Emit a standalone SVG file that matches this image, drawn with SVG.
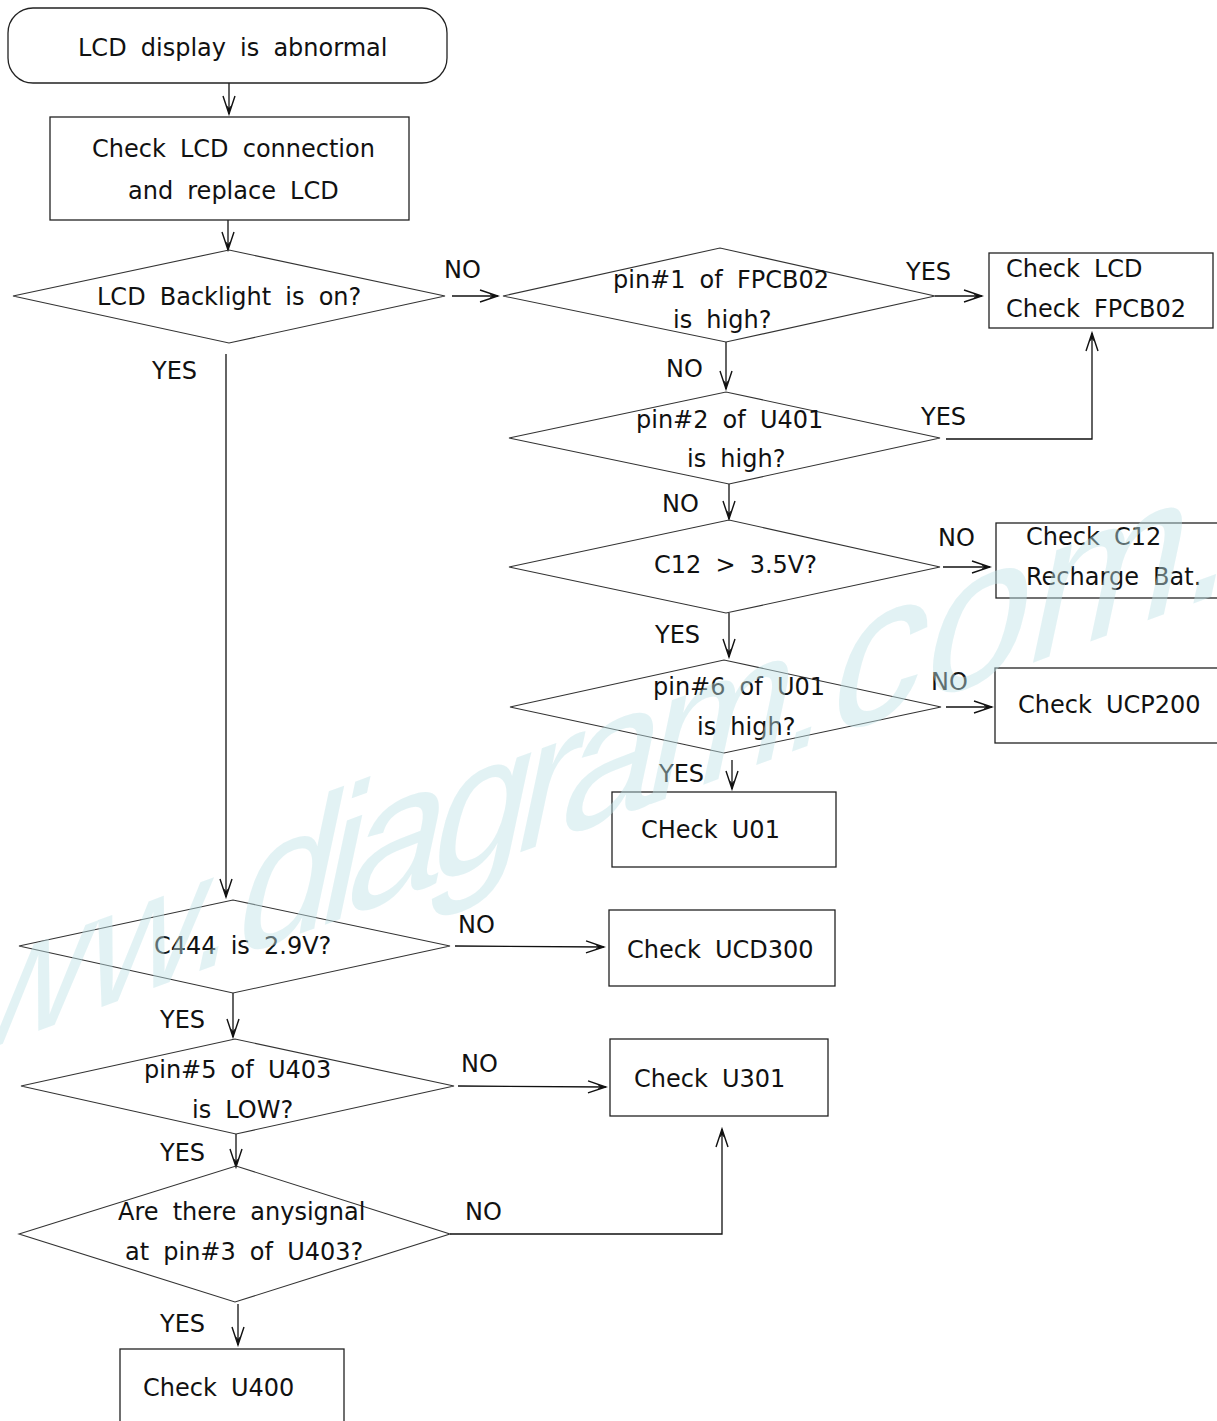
<svg xmlns="http://www.w3.org/2000/svg" width="1217" height="1421" viewBox="0 0 1217 1421">
<defs>
<style>
.t{font-family:"DejaVu Sans","Verdana",sans-serif;font-size:24px;word-spacing:6.5px;fill:#111}
.n{fill:#fff;stroke:#222;stroke-width:1.3}
.d{fill:none;stroke:#333;stroke-width:1.1}
.c{fill:none;stroke:#111;stroke-width:1.3}
.wm{font-family:"Liberation Sans",Arial,sans-serif;font-size:170px;fill:rgb(190,226,230);fill-opacity:0.45}
</style>
<marker id="ah" viewBox="-20 -8 22 16" refX="0" refY="0" markerWidth="22" markerHeight="16" markerUnits="userSpaceOnUse" orient="auto">
<path d="M-18,-6 L0,0 L-18,6" fill="none" stroke="#111" stroke-width="1.4"/>
<path d="M-9,-2.6 L0,0 L-9,2.6 L-6,0 Z" fill="#111"/>
</marker>
</defs>
<rect width="1217" height="1421" fill="#fff"/>
<g id="connectors">
<line class="c" x1="229" y1="83" x2="229" y2="114" marker-end="url(#ah)"/>
<line class="c" x1="228" y1="220" x2="228" y2="250" marker-end="url(#ah)"/>
<line class="c" x1="452" y1="296" x2="498" y2="296" marker-end="url(#ah)"/>
<line class="c" x1="226" y1="354" x2="226" y2="897" marker-end="url(#ah)"/>
<line class="c" x1="935" y1="296" x2="982" y2="296" marker-end="url(#ah)"/>
<line class="c" x1="726" y1="342" x2="726" y2="389" marker-end="url(#ah)"/>
<polyline class="c" points="946,439 1092,439 1092,333" marker-end="url(#ah)"/>
<line class="c" x1="729" y1="484" x2="729" y2="519" marker-end="url(#ah)"/>
<line class="c" x1="943" y1="567" x2="990" y2="567" marker-end="url(#ah)"/>
<line class="c" x1="729" y1="613" x2="729" y2="657" marker-end="url(#ah)"/>
<line class="c" x1="946" y1="707" x2="992" y2="707" marker-end="url(#ah)"/>
<line class="c" x1="732" y1="760" x2="732" y2="789" marker-end="url(#ah)"/>
<line class="c" x1="455" y1="946" x2="604" y2="947" marker-end="url(#ah)"/>
<line class="c" x1="233" y1="993" x2="233" y2="1037" marker-end="url(#ah)"/>
<line class="c" x1="458" y1="1086" x2="606" y2="1087" marker-end="url(#ah)"/>
<line class="c" x1="236" y1="1134" x2="236" y2="1167" marker-end="url(#ah)"/>
<polyline class="c" points="450,1234 722,1234 722,1129" marker-end="url(#ah)"/>
<line class="c" x1="238" y1="1304" x2="238" y2="1345" marker-end="url(#ah)"/>
<text class="t" x="444" y="278">NO</text>
<text class="t" x="152" y="379">YES</text>
<text class="t" x="906" y="280">YES</text>
<text class="t" x="666" y="377">NO</text>
<text class="t" x="921" y="425">YES</text>
<text class="t" x="662" y="512">NO</text>
<text class="t" x="938" y="546">NO</text>
<text class="t" x="655" y="643">YES</text>
<text class="t" x="931" y="690">NO</text>
<text class="t" x="659" y="782">YES</text>
<text class="t" x="458" y="933">NO</text>
<text class="t" x="160" y="1028">YES</text>
<text class="t" x="461" y="1072">NO</text>
<text class="t" x="160" y="1161">YES</text>
<text class="t" x="465" y="1220">NO</text>
<text class="t" x="160" y="1332">YES</text>
</g>
<g id="n_start">
<rect class="n" x="8" y="8" width="439" height="75" rx="25" ry="25"/>
<text class="t" x="78" y="56">LCD display is abnormal</text>
</g>
<g id="n_check_lcd_conn">
<rect class="n" x="50" y="117" width="359" height="103"/>
<text class="t" x="92" y="157">Check LCD connection</text>
<text class="t" x="128" y="199">and replace LCD</text>
</g>
<g id="d_backlight">
<polygon class="d" points="13,296 229,250 445,296 229,343"/>
<text class="t" x="97" y="305">LCD Backlight is on?</text>
</g>
<g id="d_fpcb02">
<polygon class="d" points="503,296 720,248 935,296 726,342"/>
<text class="t" x="613" y="288">pin#1 of FPCB02</text>
<text class="t" x="673" y="328">is high?</text>
</g>
<g id="n_check_lcd_fpcb02">
<rect class="n" x="989" y="253" width="224" height="75"/>
<text class="t" x="1006" y="277">Check LCD</text>
<text class="t" x="1006" y="317">Check FPCB02</text>
</g>
<g id="d_u401">
<polygon class="d" points="509,438 726,392 940,438 729,484"/>
<text class="t" x="636" y="428">pin#2 of U401</text>
<text class="t" x="687" y="467">is high?</text>
</g>
<g id="d_c12">
<polygon class="d" points="509,567 729,520 940,567 726,613"/>
<text class="t" x="654" y="573">C12 &gt; 3.5V?</text>
</g>
<g id="n_check_c12">
<rect class="n" x="996" y="523" width="240" height="75"/>
<text class="t" x="1026" y="545">Check C12</text>
<text class="t" x="1026" y="585">Recharge Bat.</text>
</g>
<g id="d_u01">
<polygon class="d" points="510,707 724,660 941,707 724,753"/>
<text class="t" x="653" y="695">pin#6 of U01</text>
<text class="t" x="697" y="735">is high?</text>
</g>
<g id="n_check_ucp200">
<rect class="n" x="995" y="668" width="240" height="75"/>
<text class="t" x="1018" y="713">Check UCP200</text>
</g>
<g id="n_check_u01">
<rect class="n" x="612" y="792" width="224" height="75"/>
<text class="t" x="641" y="838">CHeck U01</text>
</g>
<g id="d_c444">
<polygon class="d" points="19,946 233,900 450,946 233,993"/>
<text class="t" x="154" y="954">C444 is 2.9V?</text>
</g>
<g id="n_check_ucd300">
<rect class="n" x="609" y="910" width="226" height="76"/>
<text class="t" x="627" y="958">Check UCD300</text>
</g>
<g id="d_u403_pin5">
<polygon class="d" points="21,1086 235,1039 454,1086 236,1134"/>
<text class="t" x="144" y="1078">pin#5 of U403</text>
<text class="t" x="192" y="1118">is LOW?</text>
</g>
<g id="n_check_u301">
<rect class="n" x="610" y="1039" width="218" height="77"/>
<text class="t" x="634" y="1087">Check U301</text>
</g>
<g id="d_u403_pin3">
<polygon class="d" points="19,1234 236,1166 450,1234 235,1302"/>
<text class="t" x="118" y="1220">Are there anysignal</text>
<text class="t" x="125" y="1260">at pin#3 of U403?</text>
</g>
<g id="n_check_u400">
<rect class="n" x="120" y="1349" width="224" height="100"/>
<text class="t" x="143" y="1396">Check U400</text>
</g>
<g id="watermark">
<text class="wm" transform="matrix(0.938,-0.347,-0.227,1.066,-152,1101)" y="0"><tspan x="0">www.</tspan><tspan font-size="185" letter-spacing="-13">diagram</tspan><tspan x="991">.</tspan><tspan font-size="200">com.br</tspan></text>
</g>
</svg>
